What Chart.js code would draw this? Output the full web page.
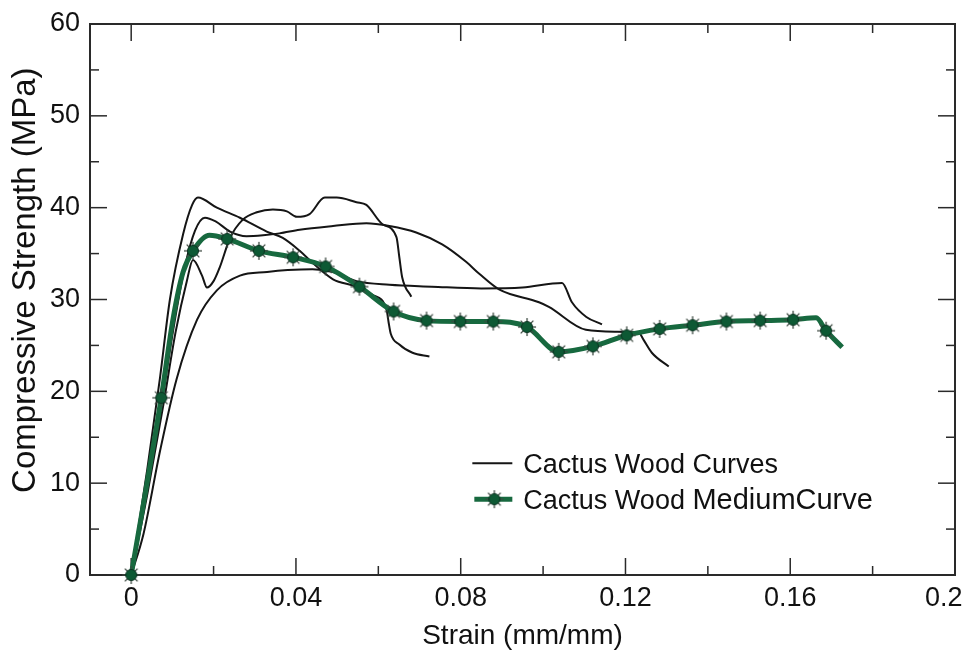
<!DOCTYPE html>
<html>
<head>
<meta charset="utf-8">
<title>Cactus wood compressive strength</title>
<script src="https://cdn.jsdelivr.net/npm/chart.js@4.4.1/dist/chart.umd.min.js"></script>
<style>
  html, body { margin: 0; padding: 0; background: #fff; }
  #wrap { width: 965px; height: 653px; }
</style>
</head>
<body>
<div id="wrap"><canvas id="strainChart" width="965" height="653"></canvas></div>
<script>
// tick labels
const xTicks = [0, 0.04, 0.08, 0.12, 0.16, 0.2];
const yTicks = [0, 10, 20, 30, 40, 50, 60];

// individual test curves, [strain, stress MPa]
const curveA = [
  [0, 0], [0.0039, 11.5], [0.007, 21.5], [0.0094, 30], [0.0126, 37.1], [0.0148, 40.3], [0.0162, 41.1],
  [0.0208, 40.0], [0.0264, 38.9], [0.0329, 37.4], [0.0368, 36.7], [0.0409, 35.3], [0.044, 34.0],
  [0.049, 32.2], [0.0547, 31.4], [0.0586, 30.5], [0.062, 28.9], [0.0625, 27.5], [0.063, 26.3],
  [0.0651, 25.1], [0.0683, 24.2], [0.0724, 23.8]
];
const curveB = [
  [0, 0], [0.004, 9.5], [0.0075, 19.0], [0.0105, 27.5], [0.013, 33.5], [0.0155, 37.5], [0.0179, 38.9],
  [0.0205, 38.5], [0.024, 37.4], [0.028, 36.9], [0.032, 37.0], [0.036, 37.2], [0.0409, 37.6],
  [0.049, 38.0], [0.0571, 38.3], [0.0627, 38.0], [0.0692, 37.3], [0.0755, 36.0], [0.0813, 34.1],
  [0.0845, 32.8], [0.0893, 31.1], [0.099, 29.7], [0.1014, 29.2], [0.1104, 26.7], [0.1176, 26.5],
  [0.1232, 26.4], [0.1244, 25.6], [0.1264, 24.2], [0.1305, 22.7]
];
const curveC = [
  [0, 0], [0.004, 9], [0.0078, 18.5], [0.0108, 26.5], [0.0135, 32.0], [0.0150, 34.3], [0.0172, 32.6],
  [0.0184, 31.3], [0.02, 32.0], [0.0215, 33.5], [0.024, 36.7], [0.0271, 38.7], [0.0305, 39.5],
  [0.0344, 39.8], [0.0378, 39.6], [0.0402, 39.0], [0.0433, 39.3], [0.047, 41.1], [0.0499, 41.1],
  [0.0547, 40.6], [0.0571, 40.3], [0.061, 38.2], [0.0644, 36.8], [0.0651, 34.6], [0.0658, 32.4],
  [0.068, 30.3]
];
const curveD = [
  [0, 0], [0.003, 4.5], [0.007, 13.5], [0.011, 21.3], [0.016, 27.8], [0.0208, 31.0], [0.0264, 32.6],
  [0.033, 33.0], [0.038, 33.2], [0.044, 33.3], [0.049, 33.0], [0.0547, 32.0], [0.0627, 31.6],
  [0.073, 31.4], [0.085, 31.2], [0.095, 31.3], [0.1046, 31.8], [0.107, 29.7], [0.1105, 28.1],
  [0.1143, 27.3]
];

// medium curve: the line and the marked points on it
const mediumLine = [
  [0, 0], [0.0073, 19.3], [0.0102, 28.0], [0.0126, 33.0], [0.015, 35.3], [0.019, 37.0], [0.0233, 36.6],
  [0.031, 35.3], [0.0393, 34.6], [0.0472, 33.6], [0.0554, 31.4], [0.0637, 28.7], [0.0717, 27.7],
  [0.0799, 27.6], [0.0879, 27.6], [0.0961, 27.0], [0.1038, 24.3], [0.1121, 24.9], [0.1203, 26.1],
  [0.1283, 26.8], [0.1363, 27.2], [0.1445, 27.6], [0.1527, 27.7], [0.1607, 27.8], [0.1663, 28.0],
  [0.1687, 26.6], [0.1726, 24.8]
];
const mediumMarks = [
  [0, 0], [0.0073, 19.3], [0.015, 35.3], [0.0233, 36.6], [0.031, 35.3], [0.0393, 34.6], [0.0472, 33.6],
  [0.0554, 31.4], [0.0637, 28.7], [0.0717, 27.7], [0.0799, 27.6], [0.0879, 27.6], [0.0961, 27.0],
  [0.1038, 24.3], [0.1121, 24.9], [0.1203, 26.1], [0.1283, 26.8], [0.1363, 27.2], [0.1445, 27.6],
  [0.1527, 27.7], [0.1607, 27.8], [0.1687, 26.6]
];

const FONT = "'Liberation Sans', Arial, sans-serif";
const GREEN = "#17693f";
const Y_TITLE = "Compressive Strength (MPa)";

function toPoints(pairs) {
  return pairs.map(p => ({ x: p[0], y: p[1] }));
}

// dark green dot with little spikes, like the original star marker
function makeMarker() {
  const c = document.createElement("canvas");
  c.width = 20;
  c.height = 20;
  const g = c.getContext("2d");
  g.translate(10, 10);
  g.strokeStyle = "#3d4a42";
  g.lineWidth = 1.3;
  for (let i = 0; i < 8; i++) {
    const a = i * Math.PI / 4;
    g.beginPath();
    g.moveTo(0, 0);
    g.lineTo(Math.cos(a) * 9, Math.sin(a) * 9);
    g.stroke();
  }
  g.beginPath();
  g.arc(0, 0, 5.5, 0, Math.PI * 2);
  g.fillStyle = "#0d5934";
  g.fill();
  g.lineWidth = 1;
  g.strokeStyle = "#0a3220";
  g.stroke();
  return c;
}

function curveDataset(pairs) {
  return {
    label: "Cactus Wood Curves",
    data: toPoints(pairs),
    borderColor: "#151515",
    borderWidth: 2,
    pointRadius: 0,
    cubicInterpolationMode: "monotone",
    order: 3
  };
}

// box, inward ticks on all four sides (majors + midpoint minors)
const frameTicks = {
  id: "frameTicks",
  beforeDatasetsDraw(chart, args, opts) {
    const { ctx, chartArea, scales } = chart;
    const { left, right, top, bottom } = chartArea;
    const line = (x1, y1, x2, y2) => {
      ctx.beginPath();
      ctx.moveTo(x1, y1);
      ctx.lineTo(x2, y2);
      ctx.stroke();
    };
    ctx.save();
    ctx.strokeStyle = opts.color;
    ctx.lineWidth = opts.width;
    ctx.strokeRect(left, top, right - left, bottom - top);
    ctx.lineWidth = 1.5;

    xTicks.forEach((v, i) => {
      const px = scales.x.getPixelForValue(v);
      line(px, bottom, px, bottom - opts.major);
      line(px, top, px, top + opts.major);
      if (i < xTicks.length - 1) {
        const mx = scales.x.getPixelForValue((v + xTicks[i + 1]) / 2);
        line(mx, bottom, mx, bottom - opts.minor);
        line(mx, top, mx, top + opts.minor);
      }
    });
    yTicks.forEach((v, i) => {
      const py = scales.y.getPixelForValue(v);
      line(left, py, left + opts.major, py);
      line(right, py, right - opts.major, py);
      if (i < yTicks.length - 1) {
        const my = scales.y.getPixelForValue((v + yTicks[i + 1]) / 2);
        line(left, my, left + opts.minor, my);
        line(right, my, right - opts.minor, my);
      }
    });
    ctx.restore();
  }
};

// y title sits a bit above the middle of the axis in the original
const yTitle = {
  id: "yTitle",
  afterDraw(chart, args, opts) {
    const { ctx, chartArea } = chart;
    const cy = chartArea.top + opts.pos * (chartArea.bottom - chartArea.top);
    ctx.save();
    ctx.translate(opts.x, cy);
    ctx.rotate(-Math.PI / 2);
    ctx.font = opts.font;
    ctx.fillStyle = "#111";
    ctx.textAlign = "center";
    ctx.textBaseline = "middle";
    ctx.fillText(Y_TITLE, 0, 0);
    ctx.restore();
  }
};

// legend drawn inside the plot area
const innerLegend = {
  id: "innerLegend",
  afterDraw(chart, args, opts) {
    const { ctx, chartArea } = chart;
    const x0 = chartArea.left + opts.x * (chartArea.right - chartArea.left);
    const y0 = chartArea.top + opts.y * (chartArea.bottom - chartArea.top);
    const sets = chart.data.datasets;
    const curves = sets.find(d => d.order === 3);
    const medium = sets.find(d => d.order === 0);

    ctx.save();
    ctx.font = opts.font;
    ctx.fillStyle = "#111";
    ctx.textBaseline = "middle";

    ctx.strokeStyle = curves.borderColor;
    ctx.lineWidth = 2;
    ctx.beginPath();
    ctx.moveTo(x0, y0);
    ctx.lineTo(x0 + 40, y0);
    ctx.stroke();
    ctx.fillText(curves.label, x0 + opts.textGap, y0 + 2);

    const y1 = y0 + opts.gap;
    ctx.strokeStyle = GREEN;
    ctx.lineWidth = 5;
    ctx.beginPath();
    ctx.moveTo(x0 + 2, y1);
    ctx.lineTo(x0 + 40, y1);
    ctx.stroke();
    const m = medium.pointStyle;
    ctx.drawImage(m, x0 + 22 - m.width / 2, y1 - m.height / 2);

    // "MediumCurve" is set slightly larger than the rest in the original
    const cut = medium.label.lastIndexOf(" ") + 1;
    const head = medium.label.slice(0, cut);
    ctx.fillText(head, x0 + opts.textGap, y1 + 2);
    const w = ctx.measureText(head).width;
    ctx.font = opts.bigFont;
    ctx.fillText(medium.label.slice(cut), x0 + opts.textGap + w, y1 + 2);
    ctx.restore();
  }
};

function buildChart() {
  const marker = makeMarker();
  const ctx = document.getElementById("strainChart").getContext("2d");

  new Chart(ctx, {
    type: "line",
    data: {
      datasets: [
        {
          label: "Cactus Wood MediumCurve",
          data: toPoints(mediumMarks),
          showLine: false,
          pointStyle: marker,
          pointRadius: 9,
          clip: false,
          order: 0
        },
        {
          label: "Cactus Wood MediumCurve line",
          data: toPoints(mediumLine),
          borderColor: GREEN,
          borderWidth: 5,
          pointRadius: 0,
          cubicInterpolationMode: "monotone",
          order: 1
        },
        curveDataset(curveA),
        curveDataset(curveB),
        curveDataset(curveC),
        curveDataset(curveD)
      ]
    },
    options: {
      responsive: false,
      animation: false,
      events: [],
      layout: { padding: { top: 24, right: 8, left: 0, bottom: 0 } },
      plugins: {
        legend: { display: false },
        tooltip: { enabled: false },
        frameTicks: { color: "#2a2a2a", width: 2, major: 17, minor: 9 },
        yTitle: { x: 26, pos: 0.465, font: "33px " + FONT },
        innerLegend: {
          x: 0.442, y: 0.797, gap: 36, textGap: 51,
          font: "27px " + FONT, bigFont: "29px " + FONT
        }
      },
      scales: {
        x: {
          type: "linear",
          min: -0.01,
          max: 0.2,
          grid: { display: false, drawTicks: false },
          border: { display: false },
          afterBuildTicks: s => { s.ticks = xTicks.map(v => ({ value: v })); },
          afterFit: s => { s.height = 78; s.paddingLeft = 0; s.paddingRight = 0; },
          ticks: {
            padding: 7,
            color: "#111",
            font: { family: FONT, size: 27 },
            maxRotation: 0,
            // last label sits at the canvas edge; pad it so it stays visible
            callback: v => v === 0.2 ? "0.2   " : String(+v.toFixed(2))
          },
          title: {
            display: true,
            text: "Strain (mm/mm)",
            color: "#111",
            font: { family: FONT, size: 28 },
            padding: { top: 0, bottom: 0 }
          }
        },
        y: {
          min: 0,
          max: 60,
          grid: { display: false, drawTicks: false },
          border: { display: false },
          afterBuildTicks: s => { s.ticks = yTicks.map(v => ({ value: v })); },
          afterFit: s => { s.width = 90; s.paddingTop = 0; s.paddingBottom = 0; },
          ticks: {
            padding: 10,
            color: "#111",
            font: { family: FONT, size: 27 }
          },
          title: { display: false }
        }
      }
    },
    plugins: [frameTicks, yTitle, innerLegend]
  });
}

document.addEventListener("DOMContentLoaded", buildChart);
</script>
</body>
</html>
